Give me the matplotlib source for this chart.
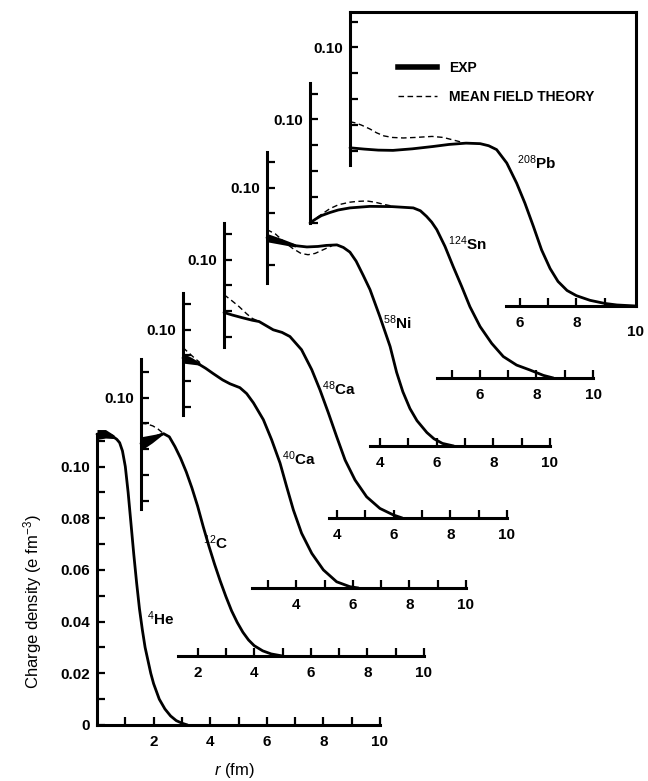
import numpy as np
import matplotlib
matplotlib.use('Agg')
import matplotlib.pyplot as plt
from matplotlib.lines import Line2D

# *****************************************************************************************
# Charge densities (r in fm, rho in e fm^-3)
# EXP = thick solid curve, TH = dashed mean field theory curve
# *****************************************************************************************
names = ['$^{4}$He', '$^{12}$C', '$^{40}$Ca', '$^{48}$Ca', '$^{58}$Ni', '$^{124}$Sn', '$^{208}$Pb']

he_r = [0, 0.2, 0.4, 0.55, 0.7, 0.8, 0.9, 1.0, 1.1, 1.2, 1.3, 1.4, 1.5, 1.6, 1.7, 1.8, 1.9, 2.0,
        2.2, 2.4, 2.6, 2.8, 3.0, 3.2]
he_rho = [0.1125, 0.1128, 0.1125, 0.1117, 0.1105, 0.1092, 0.106, 0.100, 0.090, 0.078, 0.066, 0.055,
          0.045, 0.037, 0.030, 0.025, 0.020, 0.016, 0.010, 0.0062, 0.0035, 0.0017, 0.0007, 0.0]

c_r = [0, 0.2, 0.4, 0.6, 0.8, 1.0, 1.2, 1.4, 1.6, 1.8, 2.0, 2.2, 2.4, 2.6, 2.8, 3.0, 3.2, 3.4, 3.6,
       3.8, 4.0, 4.3, 4.6, 5.0]
c_rho = [0.0822, 0.083, 0.084, 0.0852, 0.086, 0.0848, 0.081, 0.0765, 0.0712, 0.065, 0.058, 0.050,
         0.0425, 0.0355, 0.029, 0.023, 0.0175, 0.013, 0.0092, 0.0062, 0.004, 0.002, 0.0008, 0.0]
c_th_r = [0, 0.2, 0.42, 0.6, 0.8]
c_th_rho = [0.090, 0.0898, 0.089, 0.0878, 0.086]

ca40_r = [0, 0.25, 0.5, 0.8, 1.06, 1.4, 1.66, 2.01, 2.25, 2.49, 2.84, 3.13, 3.43, 3.66, 3.9, 4.19,
          4.55, 4.96, 5.43, 5.9, 6.2]
ca40_rho = [0.089, 0.088, 0.087, 0.085, 0.083, 0.0805, 0.079, 0.0775, 0.0752, 0.0716, 0.0651, 0.0574,
            0.0483, 0.0393, 0.0302, 0.0212, 0.0134, 0.0070, 0.0024, 0.0005, 0.0]
ca40_th_r = [0, 0.2, 0.4, 0.6]
ca40_th_rho = [0.093, 0.091, 0.089, 0.0872]

ca48_r = [0, 0.3, 0.64, 1.0, 1.24, 1.74, 2.05, 2.33, 2.74, 3.1, 3.39, 3.69, 3.98, 4.28, 4.63, 5.04,
          5.51, 5.98, 6.3]
ca48_rho = [0.0795, 0.0785, 0.0775, 0.0765, 0.076, 0.0728, 0.0718, 0.0702, 0.0651, 0.0574, 0.0496,
            0.0406, 0.0315, 0.0224, 0.0147, 0.0082, 0.0037, 0.0012, 0.0]
ca48_th_r = [0, 0.25, 0.53, 0.8, 1.0, 1.24]
ca48_th_rho = [0.0864, 0.0843, 0.0818, 0.079, 0.0772, 0.076]

ni_r = [0, 0.3, 0.6, 1.0, 1.41, 1.8, 2.1, 2.47, 2.7, 2.93, 3.15, 3.4, 3.64, 3.99, 4.35, 4.58, 4.8,
        5.05, 5.3, 5.65, 5.9, 6.2, 6.6]
ni_rho = [0.0806, 0.0795, 0.0785, 0.0775, 0.077, 0.0772, 0.0776, 0.0778, 0.0768, 0.075, 0.0715, 0.066,
          0.0605, 0.050, 0.0385, 0.0285, 0.021, 0.0145, 0.0098, 0.0052, 0.0028, 0.001, 0.0]
ni_th_r = [0, 0.3, 0.6, 0.9, 1.2, 1.45, 1.7, 2.0, 2.3]
ni_th_rho = [0.0837, 0.082, 0.079, 0.0765, 0.0745, 0.074, 0.0745, 0.076, 0.0775]

sn_r = [0, 0.2, 0.4, 0.7, 1.0, 1.41, 2.12, 2.9, 3.65, 3.9, 4.12, 4.3, 4.48, 4.77, 5.06, 5.36, 5.65,
        6.01, 6.42, 6.83, 7.3, 7.77, 8.25, 8.6]
sn_rho = [0.060, 0.0615, 0.0628, 0.064, 0.065, 0.0658, 0.0664, 0.0663, 0.0658, 0.0647, 0.0625, 0.0603,
          0.0574, 0.0509, 0.0431, 0.0354, 0.0276, 0.0199, 0.0134, 0.0083, 0.0050, 0.0031, 0.0010, 0.0]
sn_th_r = [0, 0.3, 0.7, 1.0, 1.4, 1.65, 2.0, 2.3, 2.6, 2.9]
sn_th_rho = [0.060, 0.0625, 0.0655, 0.067, 0.068, 0.0683, 0.0685, 0.068, 0.0672, 0.0665]

pb_r = [0, 0.5, 1.0, 1.52, 2.2, 2.93, 3.5, 4.1, 4.6, 4.9, 5.18, 5.54, 5.89, 6.18, 6.48, 6.77, 7.07,
        7.35, 7.67, 8.0, 8.48, 9.0, 9.43, 10.1]
pb_rho = [0.0612, 0.0607, 0.0603, 0.0602, 0.0608, 0.0617, 0.0625, 0.063, 0.0628, 0.062, 0.0605,
          0.0553, 0.0475, 0.0398, 0.0308, 0.0217, 0.0145, 0.0095, 0.006, 0.004, 0.0022, 0.001,
          0.0004, 0.0]
pb_th_r = [0, 0.2, 0.4, 0.7, 0.94, 1.2, 1.5, 1.88, 2.3, 2.9, 3.3, 3.9]
pb_th_rho = [0.0713, 0.0708, 0.070, 0.0685, 0.067, 0.0658, 0.0652, 0.065, 0.0652, 0.0656, 0.0652,
             0.0635]

# experimental error band near the centre (lower / upper edge)
he_band_r = [0, 0.3, 0.6]
he_band_lo = [0.1105, 0.111, 0.1108]
he_band_hi = [0.1143, 0.1143, 0.1122]
c_band_r = [0, 0.4, 0.78]
c_band_lo = [0.0795, 0.0825, 0.0858]
c_band_hi = [0.0848, 0.0856, 0.0864]
ca40_band_r = [0, 0.3, 0.6]
ca40_band_lo = [0.0870, 0.0866, 0.0862]
ca40_band_hi = [0.0908, 0.0892, 0.0872]
ni_band_r = [0, 0.5, 1.0]
ni_band_lo = [0.0790, 0.0780, 0.0770]
ni_band_hi = [0.0822, 0.0803, 0.0782]

label_r = [1.77, 2.19, 3.5, 3.46, 4.1, 4.88, 5.9]
label_rho = [0.041, 0.044, 0.050, 0.050, 0.0477, 0.052, 0.0554]

# *****************************************************************************************
# Layout of the stacked panels (pixels in the 648x781 picture)
# origin x, origin y, start of the r axis, low / high end of the density axis
# *****************************************************************************************
origin_x = [97, 141, 183, 224, 267, 310, 350]
origin_y = [725, 656, 588, 518, 446, 378, 306]
r_start = [0, 1.3, 2.45, 3.7, 3.65, 4.5, 5.5]
rho_low = [0, 0.057, 0.067, 0.066, 0.063, 0.060, 0.0547]
rho_high = [0.1125, 0.115, 0.114, 0.114, 0.1136, 0.114, 0.1136]

W, H = 648, 781
SX, SY = 28.3, 2585.0   # px per fm, px per e fm^-3

plt.rcParams['font.family'] = ['Liberation Sans', 'DejaVu Sans']
plt.rcParams['mathtext.fontset'] = 'custom'
plt.rcParams['mathtext.rm'] = 'Liberation Sans'
plt.rcParams['mathtext.it'] = 'Liberation Sans:italic'
plt.rcParams['mathtext.bf'] = 'Liberation Sans:bold'

fig = plt.figure(figsize=(W / 100, H / 100), dpi=100)

curves = [(he_r, he_rho, None, None), (c_r, c_rho, c_th_r, c_th_rho),
          (ca40_r, ca40_rho, ca40_th_r, ca40_th_rho), (ca48_r, ca48_rho, ca48_th_r, ca48_th_rho),
          (ni_r, ni_rho, ni_th_r, ni_th_rho), (sn_r, sn_rho, sn_th_r, sn_th_rho),
          (pb_r, pb_rho, pb_th_r, pb_th_rho)]
bands = {0: (he_band_r, he_band_lo, he_band_hi), 1: (c_band_r, c_band_lo, c_band_hi),
         2: (ca40_band_r, ca40_band_lo, ca40_band_hi), 4: (ni_band_r, ni_band_lo, ni_band_hi)}

SPINE = 2.2
TICKFONT = dict(fontsize=11, fontweight='bold')
DASH = (0, (4, 2.5))

# draw the back panels first so the front ones sit on top
for i in range(6, -1, -1):
    last = (i == 6)
    xr = 10.1 if last else 10.4
    yt = rho_high[i] if last else 0.125
    rect = [origin_x[i] / W, 1 - origin_y[i] / H, xr * SX / W, yt * SY / H]
    ax = fig.add_axes(rect)
    ax.set_xlim(0, xr)
    ax.set_ylim(0, yt)
    ax.patch.set_alpha(0)

    for s in ['left', 'bottom', 'top', 'right']:
        ax.spines[s].set_linewidth(SPINE)
    ax.spines['left'].set_bounds(rho_low[i], rho_high[i])
    ax.spines['bottom'].set_bounds(r_start[i], 10.1 if last else 10)
    if not last:
        ax.spines['top'].set_visible(False)
        ax.spines['right'].set_visible(False)

    # r ticks every fm, labels on the even ones
    first = int(np.ceil(r_start[i] + 0.3))
    xt = [v for v in range(first, 11) if not (last and v == 10)]
    ax.set_xticks(xt)
    ax.set_xticklabels([str(v) if v % 2 == 0 else '' for v in xt], **TICKFONT)
    if last:
        ax.text(10.1, -0.0075, '10', ha='center', va='top', **TICKFONT)

    # density ticks every 0.01
    lo = int(np.ceil(rho_low[i] * 100 - 1e-6))
    hi = int(np.floor(rho_high[i] * 100 + 1e-6))
    if i == 0:
        ylab = ['0' if k == 0 else ('%.2f' % (k / 100) if k % 2 == 0 and k <= 10 else '')
                for k in range(lo, hi + 1)]
    else:
        ylab = ['0.10' if k == 10 else '' for k in range(lo, hi + 1)]
    ax.set_yticks([k / 100 for k in range(lo, hi + 1)])
    ax.set_yticklabels(ylab, **TICKFONT)

    ax.tick_params(axis='both', direction='in', length=5.5, width=1.6, pad=5)
    ax.tick_params(axis='x', pad=7)
    ax.tick_params(top=False, right=False)

    r, rho, rt, rhot = curves[i]
    if i in bands:
        br, blo, bhi = bands[i]
        ax.fill_between(br, blo, bhi, color='black', lw=0)
    ax.plot(r, rho, color='black', lw=2.0, solid_capstyle='round', solid_joinstyle='round', clip_on=False)
    if rt is not None:
        ax.plot(rt, rhot, color='black', lw=1.0, ls=DASH, clip_on=False)

    ax.text(label_r[i], label_rho[i], names[i], fontsize=11, fontweight='bold', ha='left', va='center')

    if last:
        handles = [Line2D([], [], color='black', lw=4.0),
                   Line2D([], [], color='black', lw=1.0, ls=DASH)]
        ax.legend(handles, ['EXP', 'MEAN FIELD THEORY'], loc='upper left',
                  bbox_to_anchor=(398 / W, 1 - 61 / H), bbox_transform=fig.transFigure,
                  frameon=False, handlelength=2.8, handletextpad=0.85, labelspacing=1.05,
                  borderpad=0, borderaxespad=0,
                  prop=dict(family=['Liberation Sans', 'DejaVu Sans'], size=10, weight='bold'))

fig.text(33 / W, 1 - 602 / H, 'Charge density (e fm$^{-3}$)', rotation=90, ha='center', va='center', fontsize=12)
fig.text(234 / W, 1 - 770 / H, '$r$ (fm)', ha='center', va='center', fontsize=12)

fig.savefig('out.png', dpi=100)
